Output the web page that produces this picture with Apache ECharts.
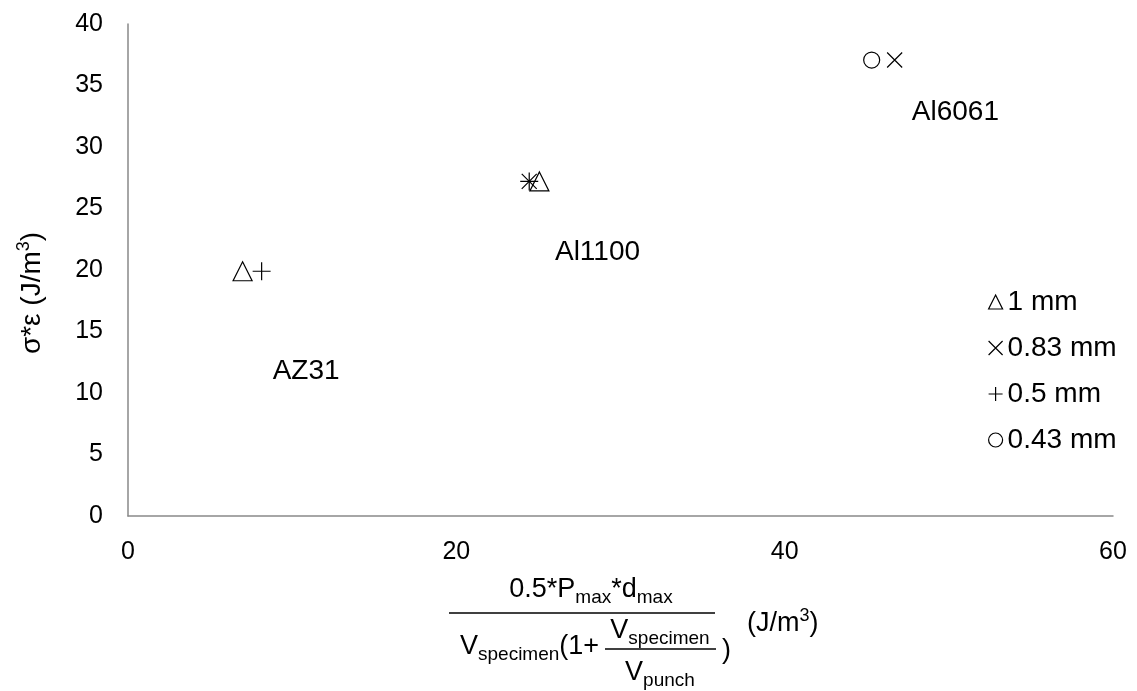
<!DOCTYPE html>
<html>
<head>
<meta charset="utf-8">
<script src="https://cdn.jsdelivr.net/npm/echarts@6/dist/echarts.min.js"></script>
<style>html,body{margin:0;padding:0;background:#fff}#c{width:1137px;height:691px}</style>
</head>
<body>
<div id="c"></div>
<script>
// ---- data ----
const seriesNames = ['1 mm', '0.83 mm', '0.5 mm', '0.43 mm'];
const data1mm   = [[6.98, 19.9], [25.06, 27.2]];
const data083mm = [[24.44, 27.2], [46.7, 37.07]];
const data05mm  = [[8.14, 19.9], [24.44, 27.2]];
const data043mm = [[45.3, 37.07]];
const materialLabels = ['AZ31', 'Al1100', 'Al6061'];
const materialPos = [[10.85, 11.8], [28.6, 21.45], [50.4, 32.8]];
const xTicks = [0, 20, 40, 60];
const yTicks = [0, 5, 10, 15, 20, 25, 30, 35, 40];

const FONT = 'Liberation Sans, Arial, sans-serif';
const CROSS = 'path://M0,0L10,10M10,0L0,10';
const PLUS = 'path://M5,0L5,10M0,5L10,5';
const symbols = ['triangle', CROSS, PLUS, 'circle'];
const sizes = [19, 15, 18, 16];
const datasets = [data1mm, data083mm, data05mm, data043mm];

const markerStyle = {color: 'rgba(0,0,0,0)', borderColor: '#000', borderWidth: 1.2, opacity: 1};

const series = seriesNames.map((n, i) => ({
  name: n, type: 'scatter', data: datasets[i],
  symbol: symbols[i], symbolSize: sizes[i],
  itemStyle: markerStyle, emphasis: {disabled: true}, z: 3
}));
series.push({
  name: 'labels', type: 'scatter', symbolSize: 0, silent: true,
  itemStyle: {opacity: 1},
  data: materialLabels.map((t, i) => ({name: t, value: materialPos[i]})),
  label: {show: true, position: 'inside', formatter: p => p.name,
          color: '#000', fontSize: 28, fontFamily: FONT}
});

const rn = {fontSize: 27, lineHeight: 27, verticalAlign: 'top', fontFamily: FONT, fill: '#000'};
const rs = {fontSize: 19, lineHeight: 44, verticalAlign: 'middle', fontFamily: FONT, fill: '#000'};
const supN = {fontSize: 27, lineHeight: 34, verticalAlign: 'middle', fontFamily: FONT, fill: '#000'};
const supP = {fontSize: 18, lineHeight: 18, verticalAlign: 'top', fontFamily: FONT, fill: '#000'};

const chart = echarts.init(document.getElementById('c'));
chart.setOption({
  animation: false,
  backgroundColor: '#fff',
  grid: {left: 128, right: 24, top: 24, bottom: 175},
  xAxis: {
    type: 'value', min: xTicks[0], max: xTicks[xTicks.length - 1], interval: 20,
    axisLine: {show: true, lineStyle: {color: '#898989', width: 1.5}},
    axisTick: {show: false}, splitLine: {show: false},
    axisLabel: {color: '#000', fontSize: 25, fontFamily: FONT, margin: 24}
  },
  yAxis: {
    type: 'value', min: yTicks[0], max: yTicks[yTicks.length - 1], interval: 5,
    axisLine: {show: true, lineStyle: {color: '#898989', width: 1.5}},
    axisTick: {show: false}, splitLine: {show: false},
    axisLabel: {color: '#000', fontSize: 25, fontFamily: FONT, margin: 25}
  },
  legend: {
    data: seriesNames.map((n, i) => ({name: n, icon: symbols[i], itemStyle: markerStyle})),
    orient: 'vertical', left: 983, top: 283, itemWidth: 14, itemHeight: 14, itemGap: 18,
    textStyle: {color: '#000', fontSize: 28, fontFamily: FONT}, selectedMode: false
  },
  graphic: [
    {type: 'text', x: 32, y: 293, rotation: Math.PI / 2,
     style: {text: '{n|σ*ε (J/m}{p|3}{n|)}', align: 'center', verticalAlign: 'middle',
       rich: {n: Object.assign({}, supN, {fontSize: 28}), p: supP}}},
    {type: 'text', x: 591, y: 576,
     style: {text: '{n|0.5*P}{s|max}{n|*d}{s|max}', align: 'center', verticalAlign: 'top', rich: {n: rn, s: rs}}},
    {type: 'line', shape: {x1: 449, y1: 613, x2: 715, y2: 613}, style: {stroke: '#000', lineWidth: 1.5}},
    {type: 'text', x: 460, y: 633,
     style: {text: '{n|V}{s|specimen}{n|(1+}', align: 'left', verticalAlign: 'top', rich: {n: rn, s: rs}}},
    {type: 'text', x: 660, y: 617,
     style: {text: '{n|V}{s|specimen}', align: 'center', verticalAlign: 'top', rich: {n: rn, s: rs}}},
    {type: 'line', shape: {x1: 605, y1: 649, x2: 716, y2: 649}, style: {stroke: '#000', lineWidth: 1.5}},
    {type: 'text', x: 660, y: 659,
     style: {text: '{n|V}{s|punch}', align: 'center', verticalAlign: 'top', rich: {n: rn, s: rs}}},
    {type: 'text', x: 722, y: 651,
     style: {text: ')', fontSize: 27, fontFamily: FONT, fill: '#000', align: 'left', verticalAlign: 'middle'}},
    {type: 'text', x: 747, y: 624,
     style: {text: '{n|(J/m}{p|3}{n|)}', align: 'left', verticalAlign: 'middle',
       rich: {n: supN, p: supP}}}
  ],
  series: series
});
</script>
</body>
</html>
